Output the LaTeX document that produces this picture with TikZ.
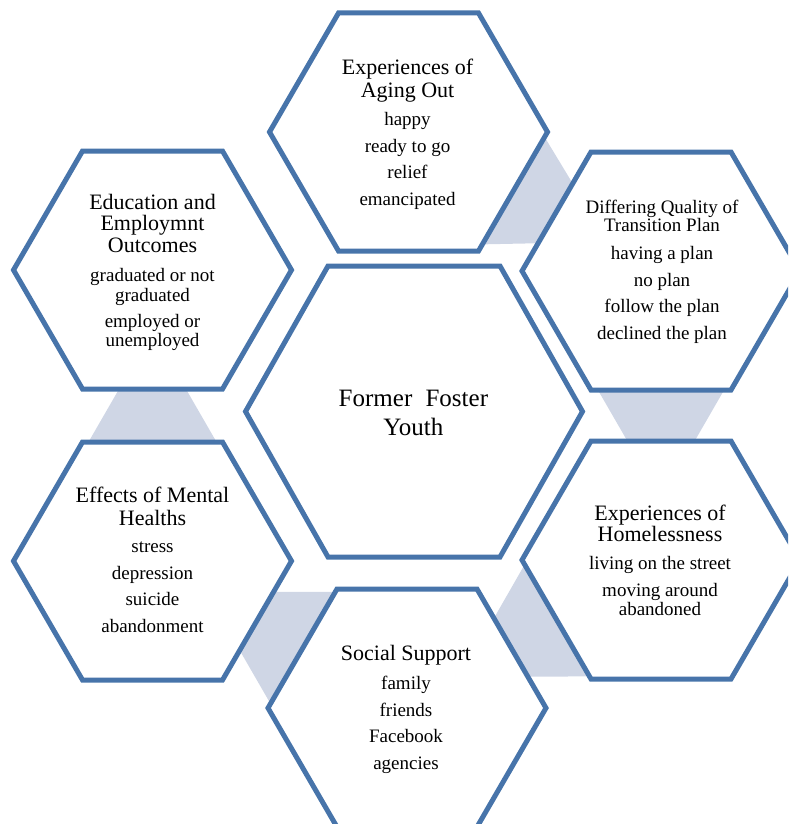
\documentclass[tikz,border=0pt]{standalone}
\usepackage{fontspec}
\setmainfont{Liberation Serif}
\usetikzlibrary{calc}
\definecolor{hexblue}{RGB}{71,116,170}
\definecolor{linkgray}{RGB}{207,214,229}
\begin{document}
\begin{tikzpicture}[x=1pt,y=-1pt,
  hexline/.style={draw=hexblue,line width=5pt,fill=white,line join=miter},
  link/.style={fill=linkgray},
  headtext/.style={font=\fontsize{22}{24}\selectfont,anchor=base,inner sep=0pt},
  smallhead/.style={font=\fontsize{19}{21}\selectfont,anchor=base,inner sep=0pt},
  itemtext/.style={font=\fontsize{19}{21}\selectfont,anchor=base,inner sep=0pt},
  titletext/.style={font=\fontsize{25}{28}\selectfont,anchor=base,inner sep=0pt}]
\useasboundingbox (0,0) rectangle (788,824);
\clip (0,0) rectangle (788,824);

% hexagon centres
\coordinate (core)   at (414,411.5);
\coordinate (age)    at (408.5,132);
\coordinate (trans)  at (661,271);
\coordinate (home)   at (661,560);
\coordinate (social) at (407,708);
\coordinate (mental) at (152.5,561);
\coordinate (edu)    at (152.5,270);

% tapered links between neighbouring outer hexagons
\foreach \a/\b in {age/trans,trans/home,home/social,social/mental,mental/edu}{
  \coordinate (tip) at ($(\a)!0.79!(\b)$);
  \fill[link] (tip) -- ($(tip)!164pt!30:(\a)$) -- ($(tip)!164pt!-30:(\a)$) -- cycle;
}

% outer hexagons
\foreach \c in {age,trans,home,social,mental,edu}
  \draw[hexline,shift={(\c)}] (-139,0) -- (-70,-119) -- (70,-119) -- (139,0)
        -- (70,119) -- (-70,119) -- cycle;

% central hexagon
\draw[hexline,shift={(core)}] (-168.5,0) -- (-86,-145.5) -- (86,-145.5) -- (168.5,0)
      -- (86,145.5) -- (-86,145.5) -- cycle;

% central title
\node[titletext] (core-1) at (413.4,406.7) {Former\hspace{7pt} Foster};
\node[titletext] (core-2) at (413.4,435) {Youth};

% Experiences of Aging Out
\foreach \t/\y [count=\i] in {Experiences of/74.3,Aging Out/97.3}
  \node[headtext] (age-h\i) at (407.5,\y) {\t};
\foreach \t/\y [count=\i] in {happy/125.5,ready to go/152,relief/178.3,emancipated/205}
  \node[itemtext] (age-i\i) at (407.5,\y) {\t};

% Differing Quality of Transition Plan
\foreach \t/\y [count=\i] in {Differing Quality of/213.3,Transition Plan/231}
  \node[smallhead] (trans-h\i) at (662,\y) {\t};
\foreach \t/\y [count=\i] in {having a plan/259.3,no plan/286,follow the plan/312.6,declined the plan/339}
  \node[itemtext] (trans-i\i) at (662,\y) {\t};

% Experiences of Homelessness
\foreach \t/\y [count=\i] in {Experiences of/520.7,Homelessness/541.7}
  \node[headtext] (home-h\i) at (660,\y) {\t};
\foreach \t/\y [count=\i] in {living on the street/569.3,moving around/596,abandoned/615.3}
  \node[itemtext] (home-i\i) at (660,\y) {\t};

% Social Support
\node[headtext] (social-h1) at (406,660.7) {Social Support};
\foreach \t/\y [count=\i] in {family/689.3,friends/716.7,Facebook/742.7,agencies/769.3}
  \node[itemtext] (social-i\i) at (406,\y) {\t};

% Effects of Mental Healths
\foreach \t/\y [count=\i] in {Effects of Mental/502.7,Healths/525}
  \node[headtext] (mental-h\i) at (152.5,\y) {\t};
\foreach \t/\y [count=\i] in {stress/552.7,depression/579.2,suicide/605.7,abandonment/632.2}
  \node[itemtext] (mental-i\i) at (152.5,\y) {\t};

% Education and Employmnt Outcomes
\foreach \t/\y [count=\i] in {Education and/209,Employmnt/230.7,Outcomes/252.7}
  \node[headtext] (edu-h\i) at (152.5,\y) {\t};
\foreach \t/\y [count=\i] in {graduated or not/281.7,graduated/301,employed or/327,unemployed/346}
  \node[itemtext] (edu-i\i) at (152.5,\y) {\t};
\end{tikzpicture}
\end{document}
